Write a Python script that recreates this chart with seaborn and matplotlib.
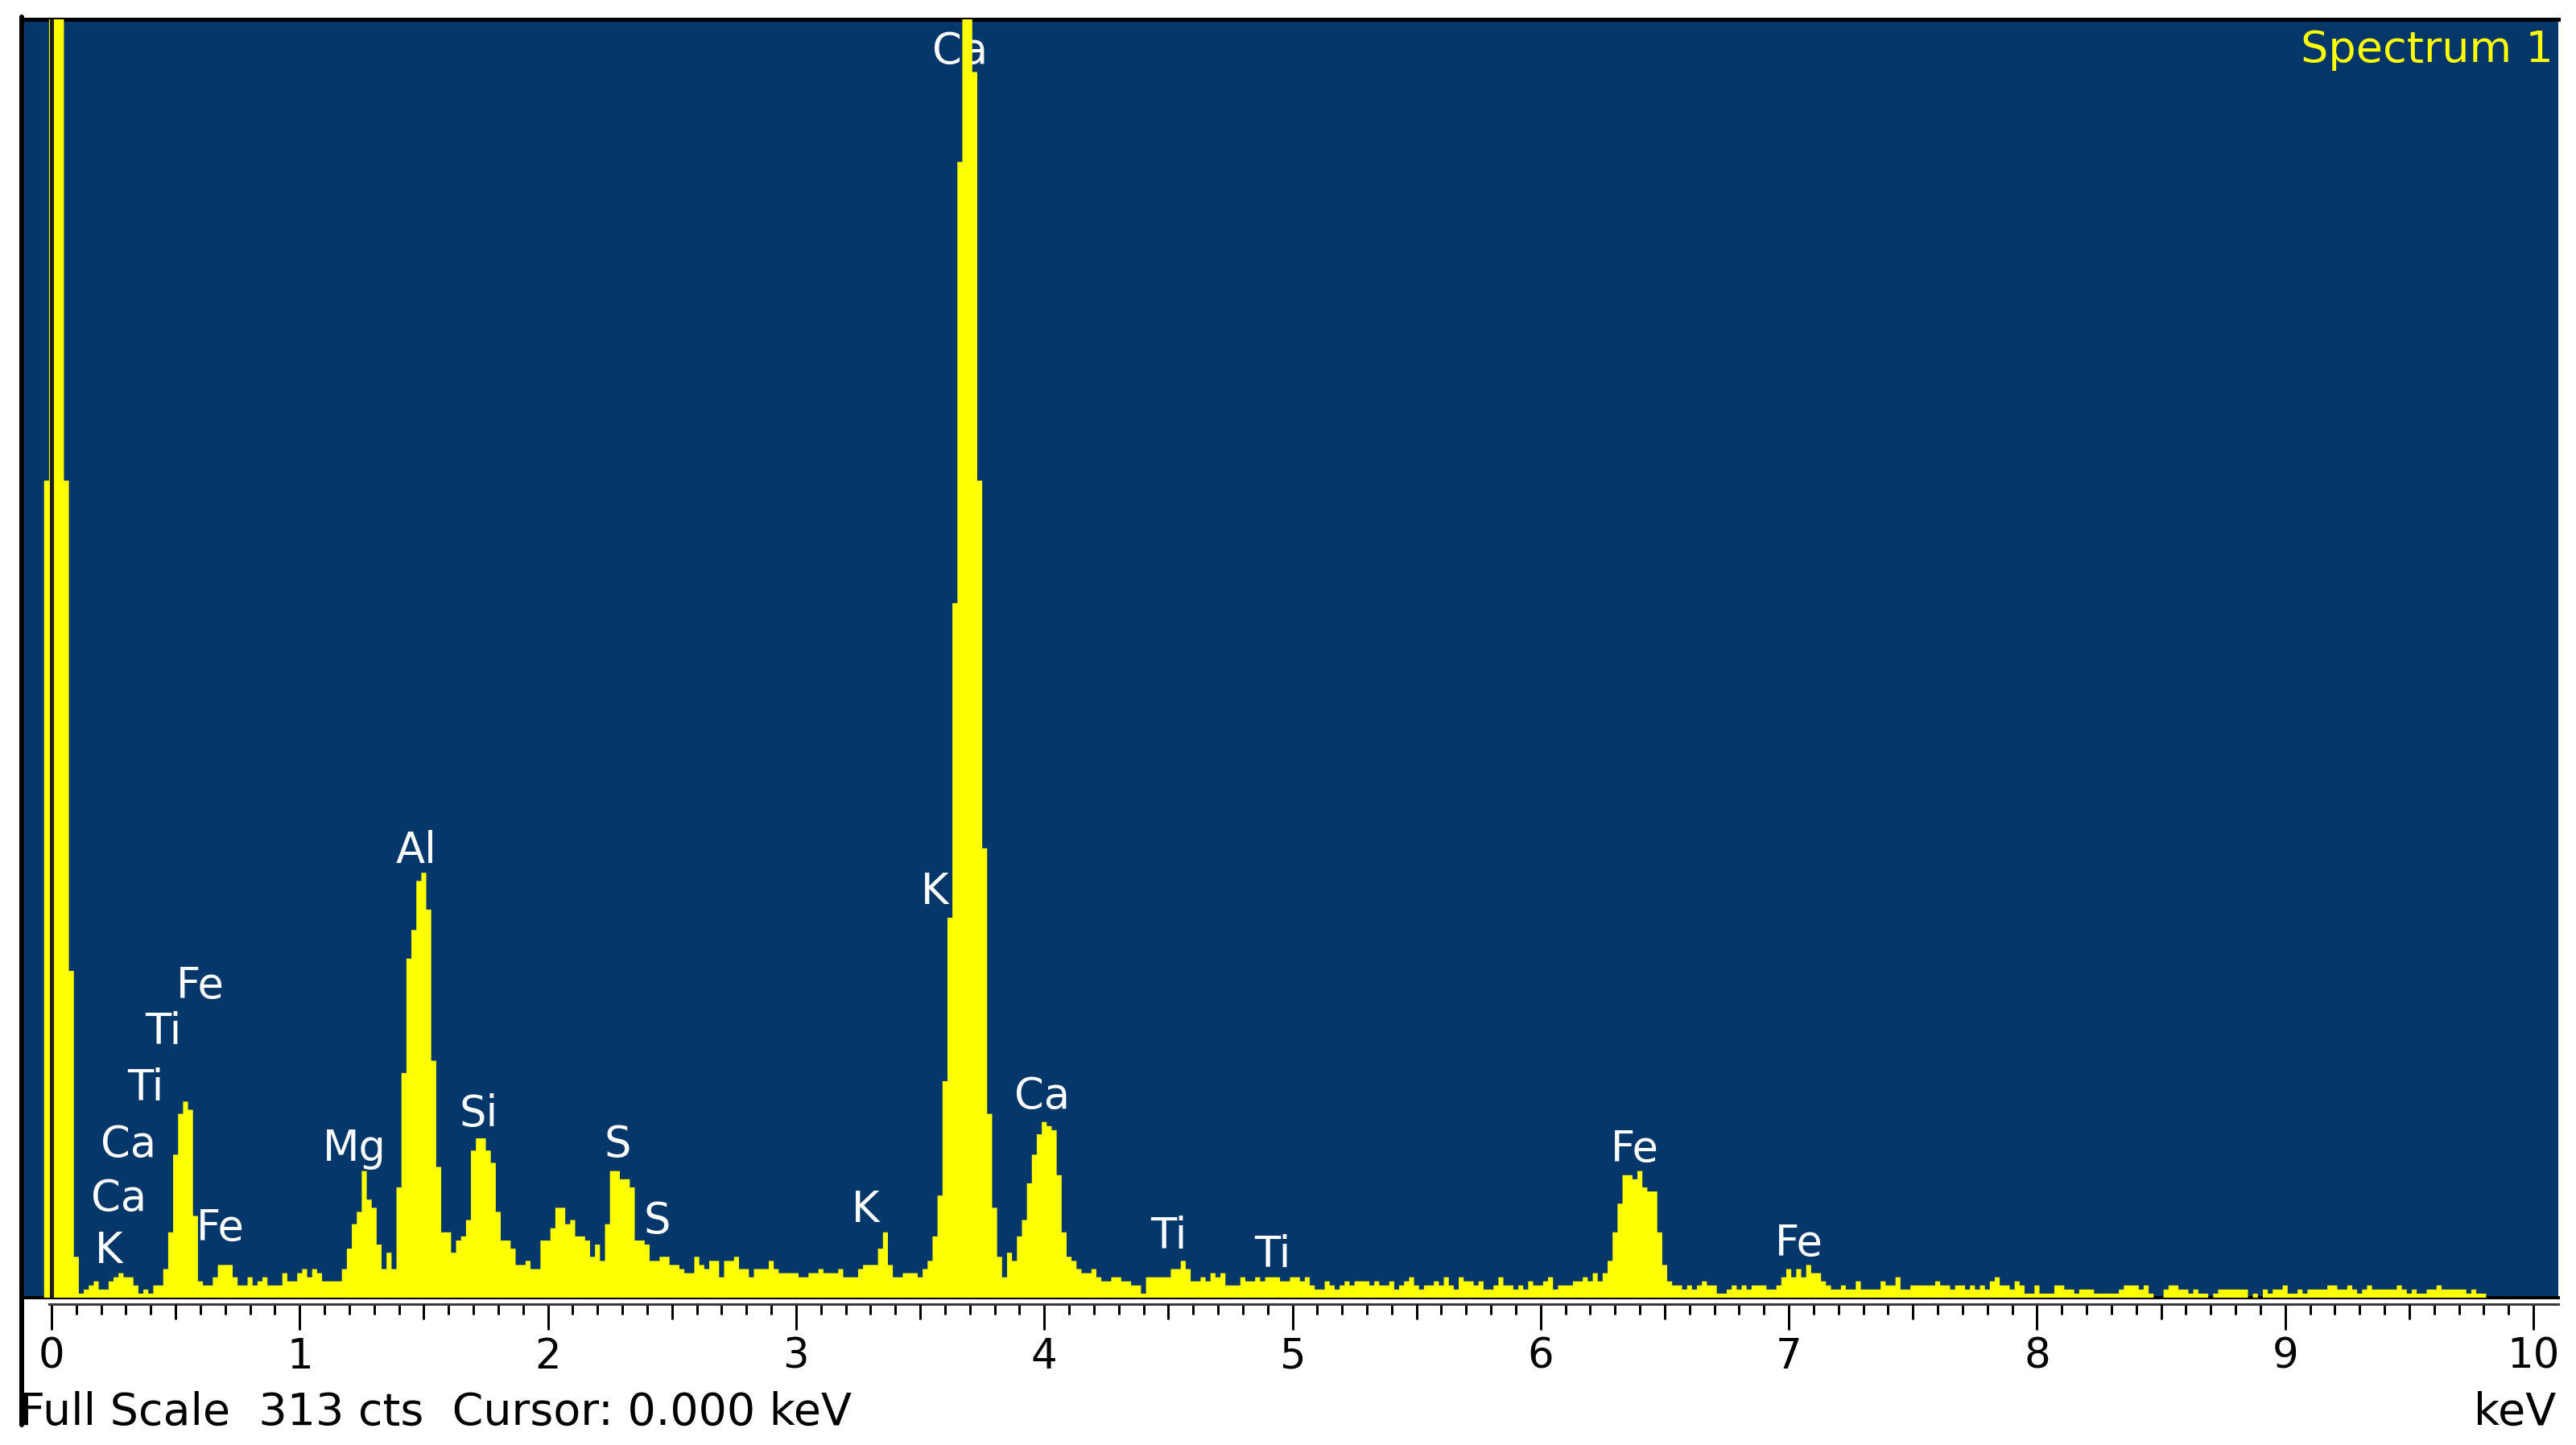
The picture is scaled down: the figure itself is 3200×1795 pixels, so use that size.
import numpy as np
import pandas as pd
import matplotlib
matplotlib.use("Agg")
import matplotlib.pyplot as plt
import seaborn as sns
from matplotlib.ticker import FixedLocator

# %%
# EDS spectrum, 0.02 keV channels, counts
channel_start = -0.02
channel_width = 0.02

# -0.02 .. 0.98 keV
counts_0 = [200, 900, 900, 700, 200, 80, 10, 1, 2, 3,
            4, 2, 2, 4, 5, 6, 5, 5, 3, 1,
            2, 1, 3, 3, 7, 16, 35, 45, 48, 46,
            20, 4, 3, 3, 5, 8, 8, 8, 5, 3,
            3, 5, 3, 4, 5, 3, 3, 3, 6, 4, 4]
# 1.00 .. 1.98 keV
counts_1 = [6, 7, 5, 7, 6, 4, 4, 4, 4, 7,
            12, 18, 21, 31, 24, 22, 13, 7, 11, 7,
            27, 55, 83, 90, 102, 104, 95, 58, 32, 16,
            16, 11, 14, 15, 19, 36, 39, 39, 36, 33,
            21, 14, 14, 12, 8, 8, 9, 7, 7, 14]
# 2.00 .. 2.98 keV
counts_2 = [14, 17, 22, 22, 18, 19, 15, 15, 14, 10,
            13, 9, 18, 31, 31, 29, 29, 27, 14, 14,
            13, 9, 9, 10, 10, 8, 8, 7, 6, 6,
            10, 8, 7, 9, 9, 5, 9, 9, 10, 7,
            7, 5, 7, 7, 7, 9, 7, 6, 6, 6]
# 3.00 .. 3.98 keV
counts_3 = [6, 5, 5, 6, 6, 7, 6, 6, 6, 7,
            5, 5, 5, 7, 8, 8, 8, 12, 16, 8,
            5, 5, 6, 6, 6, 5, 7, 9, 15, 25,
            53, 93, 170, 278, 420, 480, 300, 200, 110, 45,
            22, 10, 5, 11, 9, 15, 19, 28, 35, 40]
# 4.00 .. 4.98 keV
counts_4 = [43, 42, 41, 30, 16, 10, 9, 7, 6, 6,
            7, 5, 4, 4, 5, 5, 4, 4, 3, 3,
            1, 5, 5, 5, 5, 5, 7, 7, 9, 7,
            4, 4, 5, 4, 6, 5, 6, 3, 3, 3,
            5, 4, 4, 5, 4, 5, 5, 5, 4, 4]
# 5.00 .. 5.98 keV
counts_5 = [5, 5, 4, 5, 3, 2, 2, 4, 3, 2,
            3, 4, 3, 4, 4, 4, 3, 4, 3, 3,
            4, 2, 3, 4, 5, 3, 2, 3, 3, 4,
            3, 5, 3, 2, 5, 4, 4, 3, 4, 2,
            2, 3, 5, 3, 3, 2, 3, 2, 4, 3]
# 6.00 .. 6.98 keV
counts_6 = [3, 4, 5, 2, 3, 3, 3, 4, 4, 5,
            4, 6, 4, 6, 9, 16, 23, 30, 30, 29,
            31, 27, 26, 26, 16, 8, 4, 3, 3, 2,
            3, 2, 3, 4, 3, 3, 1, 1, 2, 3,
            2, 3, 2, 3, 3, 3, 2, 2, 3, 5]
# 7.00 .. 7.98 keV
counts_7 = [7, 5, 7, 5, 8, 6, 6, 4, 3, 2,
            2, 3, 2, 2, 4, 2, 2, 2, 2, 4,
            3, 3, 5, 2, 2, 3, 3, 3, 3, 3,
            4, 3, 3, 2, 3, 3, 2, 3, 2, 3,
            2, 4, 5, 3, 3, 2, 4, 3, 1, 1]
# 8.00 .. 8.98 keV
counts_8 = [3, 1, 1, 1, 3, 3, 2, 2, 1, 2,
            2, 2, 1, 1, 1, 1, 1, 2, 3, 3,
            3, 2, 3, 1, 0, 0, 2, 3, 3, 2,
            2, 1, 2, 1, 1, 0, 1, 2, 2, 2,
            2, 2, 2, 0, 1, 0, 2, 1, 2, 2]
# 9.00 .. 9.80 keV
counts_9 = [3, 1, 1, 2, 1, 2, 2, 2, 2, 3,
            3, 2, 2, 3, 2, 1, 2, 3, 2, 2,
            2, 2, 2, 3, 2, 1, 2, 1, 1, 2,
            2, 3, 2, 2, 2, 2, 2, 1, 2, 1, 1]

# peak labels: element, keV (centre), counts (baseline)
label_names = ["K", "Ca", "Ca", "Ti", "Ti", "Fe", "Fe", "Mg", "Al", "Si",
               "S", "S", "K", "K", "Ca", "Ca", "Ti", "Ti", "Fe", "Fe"]
label_kev = [0.23, 0.27, 0.31, 0.38, 0.45, 0.60, 0.68, 1.22, 1.47, 1.72,
             2.28, 2.44, 3.28, 3.56, 3.66, 3.99, 4.50, 4.92, 6.38, 7.04]
label_cts = [8.5, 21.3, 34.4, 48.2, 62.0, 73.3, 14.0, 33.4, 106.5, 41.9,
             34.4, 15.8, 18.6, 96.4, 302.0, 46.4, 12.0, 7.5, 33.4, 10.3]

full_scale = 313
tick_major = list(range(11))
tick_mid = [i + 0.5 for i in range(10)]
tick_minor = [i / 10 for i in range(101) if i % 5 != 0]

# %%
counts = np.concatenate([counts_0, counts_1, counts_2, counts_3, counts_4,
                         counts_5, counts_6, counts_7, counts_8, counts_9]).astype(float)
energy = channel_start + channel_width * np.arange(len(counts))
edges = np.append(energy - channel_width / 2, energy[-1] + channel_width / 2).tolist()
spectrum = pd.DataFrame({"keV": energy, "cts": counts})

sns.set_theme(style="white")
plt.rcParams["font.family"] = ["DejaVu Sans"]

W, H = 3200, 1795
PX = 72 / 100  # points per pixel
text_size = 39


def fx(px):
    return px / W


def fy(py):
    return 1 - py / H


kev0_px, px_per_kev = 64, 308.3
ax_left, ax_right, ax_top, ax_bottom = 27, 3178, 23.5, 1612
xlim = ((ax_left - kev0_px) / px_per_kev, (ax_right - kev0_px) / px_per_kev)

fig = plt.figure(figsize=(W / 100, H / 100), dpi=100, facecolor="white")
ax = fig.add_axes([fx(ax_left), fy(ax_bottom), fx(ax_right) - fx(ax_left), fy(ax_top) - fy(ax_bottom)])
ax.set_facecolor("#06376a")

sns.histplot(data=spectrum, x="keV", weights="cts", bins=edges, element="step",
             fill=True, color="#ffff00", alpha=1, linewidth=0, ax=ax, zorder=3)

ax.set_xlim(*xlim)
ax.set_ylim(0, full_scale)
ax.set_xticks([])
ax.set_yticks([])
ax.set_xlabel("")
ax.set_ylabel("")
for side, lw in [("left", 6), ("top", 5), ("bottom", 4)]:
    ax.spines[side].set_visible(True)
    ax.spines[side].set_color("black")
    ax.spines[side].set_linewidth(lw * PX)
ax.spines["right"].set_visible(False)

# cursor at 0 keV
ax.axvline(0, color="#1e1e1e", lw=5 * PX, zorder=4)

# peak labels (behind the spectrum)
for name, xk, yc in zip(label_names, label_kev, label_cts):
    ax.text(xk, yc, name, color="white", fontsize=text_size - 1, ha="center", va="baseline", zorder=2)

ax.text(1 - 6 / (ax_right - ax_left), 1 - (77 - ax_top) / (ax_bottom - ax_top), "Spectrum 1",
        transform=ax.transAxes, color="#ffff00", fontsize=text_size, ha="right", va="baseline", zorder=5)

# energy scale below the plot
axis_y = 1619.5
ax2 = fig.add_axes([fx(ax_left), fy(axis_y), fx(ax_right) - fx(ax_left), 0.0001])
ax3 = fig.add_axes([fx(ax_left), fy(axis_y), fx(ax_right) - fx(ax_left), 0.0001])
for a in (ax2, ax3):
    a.set_xlim(*xlim)
    a.set_yticks([])
    a.patch.set_visible(False)
    for s in a.spines.values():
        s.set_visible(False)

ax2.spines["bottom"].set_visible(True)
ax2.spines["bottom"].set_color("#3a3a3a")
ax2.spines["bottom"].set_linewidth(3 * PX)
ax2.spines["bottom"].set_bounds(-0.01, xlim[1])
ax2.xaxis.set_major_locator(FixedLocator(tick_major))
ax2.xaxis.set_minor_locator(FixedLocator(tick_minor))
ax2.set_xticklabels([str(t) for t in tick_major])
ax2.tick_params(axis="x", which="major", bottom=True, direction="out", length=32 * PX,
                width=3 * PX, color="black", pad=9 * PX, labelsize=text_size - 2,
                labelcolor="black")
ax2.tick_params(axis="x", which="minor", bottom=True, direction="out", length=13.5 * PX,
                width=3 * PX, color="black")
ax3.xaxis.set_major_locator(FixedLocator(tick_mid))
ax3.tick_params(axis="x", which="major", bottom=True, direction="out", length=18.5 * PX,
                width=3 * PX, color="black", labelbottom=False)

# left frame line running down to the status text
fig.add_artist(plt.Line2D([fx(27), fx(27)], [fy(21), fy(1770)], transform=fig.transFigure,
                          color="black", lw=6 * PX))

fig.text(fx(24), fy(1770), "Full Scale  313 cts  Cursor: 0.000 keV", color="black",
         fontsize=text_size + 1, ha="left", va="baseline")
fig.text(fx(3175), fy(1770), "keV", color="black", fontsize=text_size + 1, ha="right", va="baseline")

plt.savefig("out.png", dpi=100, facecolor="white")
